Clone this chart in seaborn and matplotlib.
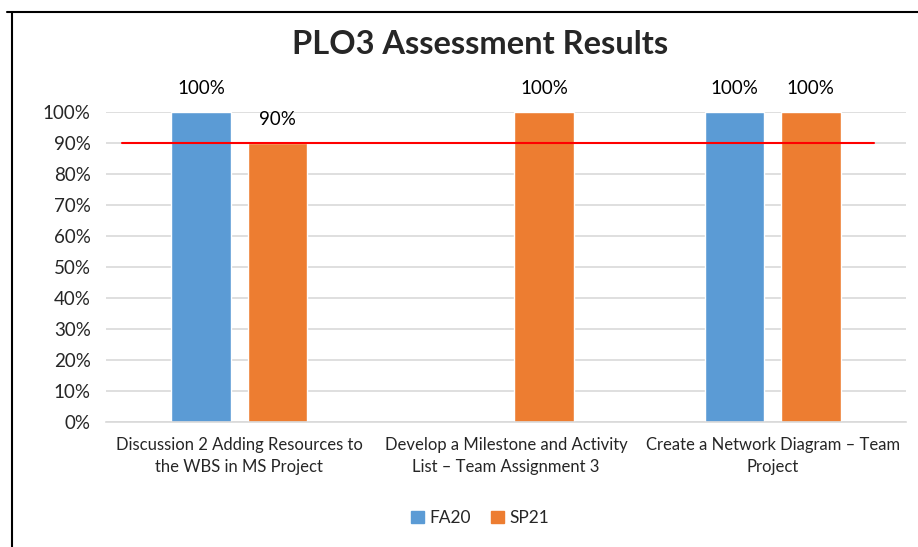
import numpy as np
import pandas as pd
import matplotlib
matplotlib.use("Agg")
import matplotlib.pyplot as plt
import seaborn as sns
from matplotlib.lines import Line2D

categories = ["Discussion 2 Adding Resources to\nthe WBS in MS Project",
              "Develop a Milestone and Activity\nList \u2013 Team Assignment 3",
              "Create a Network Diagram \u2013 Team\nProject"]
fa20 = [1.00, np.nan, 1.00]
sp21 = [0.90, 1.00, 1.00]
target = 0.90
yticks = [0, .1, .2, .3, .4, .5, .6, .7, .8, .9, 1.0]

sns.set_theme(style="white")
plt.rcParams['font.family'] = ['Lato', 'DejaVu Sans']

df = pd.DataFrame({
    "cat": categories * 2,
    "term": ["FA20"] * 3 + ["SP21"] * 3,
    "val": fa20 + sp21,
})

fig = plt.figure(figsize=(9.18, 5.47), dpi=100)
ax = fig.add_axes([106/918, 1-422/547, 800/918, 310/547])

sns.barplot(data=df, x="cat", y="val", hue="term",
            palette={"FA20": "#5B9BD5", "SP21": "#ED7D31"}, saturation=1,
            width=0.573, gap=0.216, ax=ax, legend=False, errorbar=None)

ax.set_ylim(0, 1.0)
ax.set_xlim(-0.5, 2.5)
ax.set_yticks(yticks)
ax.set_yticklabels([f"{int(round(t*100))}%" for t in yticks], fontsize=13.5)
ax.tick_params(axis='y', length=0, pad=11)
ax.tick_params(axis='x', length=0, pad=11)
ax.set_xticks(range(len(categories)))
ax.set_xticklabels(categories, fontsize=12, linespacing=1.45)
ax.set_xlabel("")
ax.set_ylabel("")
ax.yaxis.grid(True, color="#D9D9D9", linewidth=1.2)
ax.set_axisbelow(True)
for s in ["top", "right", "left"]:
    ax.spines[s].set_visible(False)
ax.spines["bottom"].set_color("#D9D9D9")
ax.spines["bottom"].set_linewidth(1.2)

# data labels
for cont in ax.containers:
    for bar in cont:
        h = bar.get_height()
        if np.isnan(h):
            continue
        ax.annotate(f"{int(round(h*100))}%", (bar.get_x() + bar.get_width()/2, h),
                    xytext=(0, 11), textcoords="offset points",
                    ha="center", va="bottom", fontsize=13.5, color="#000000",
                    annotation_clip=False)

# target line
ax.plot([-0.44, 2.38], [target, target], color="#FF0000", linewidth=1.5, zorder=5)

fig.text(480/918, 1-45/547, "PLO3 Assessment Results", ha="center", va="center",
         fontsize=23.5, fontweight="bold")

handles = [plt.Rectangle((0, 0), 1, 1, color="#5B9BD5"),
           plt.Rectangle((0, 0), 1, 1, color="#ED7D31")]
fig.legend(handles, ["FA20", "SP21"], loc="center", bbox_to_anchor=(480/918, 1-518/547),
           ncol=2, frameon=False, fontsize=12.5, handlelength=0.75, handleheight=0.75,
           handletextpad=0.3, columnspacing=1.2)

fig.add_artist(Line2D([7/918, 1], [1-12/547, 1-12/547], color="black", linewidth=1.5,
                      transform=fig.transFigure))
fig.add_artist(Line2D([12/918, 12/918], [0, 1-12/547], color="black", linewidth=1.5,
                      transform=fig.transFigure))

fig.savefig("out.png", dpi=100)
